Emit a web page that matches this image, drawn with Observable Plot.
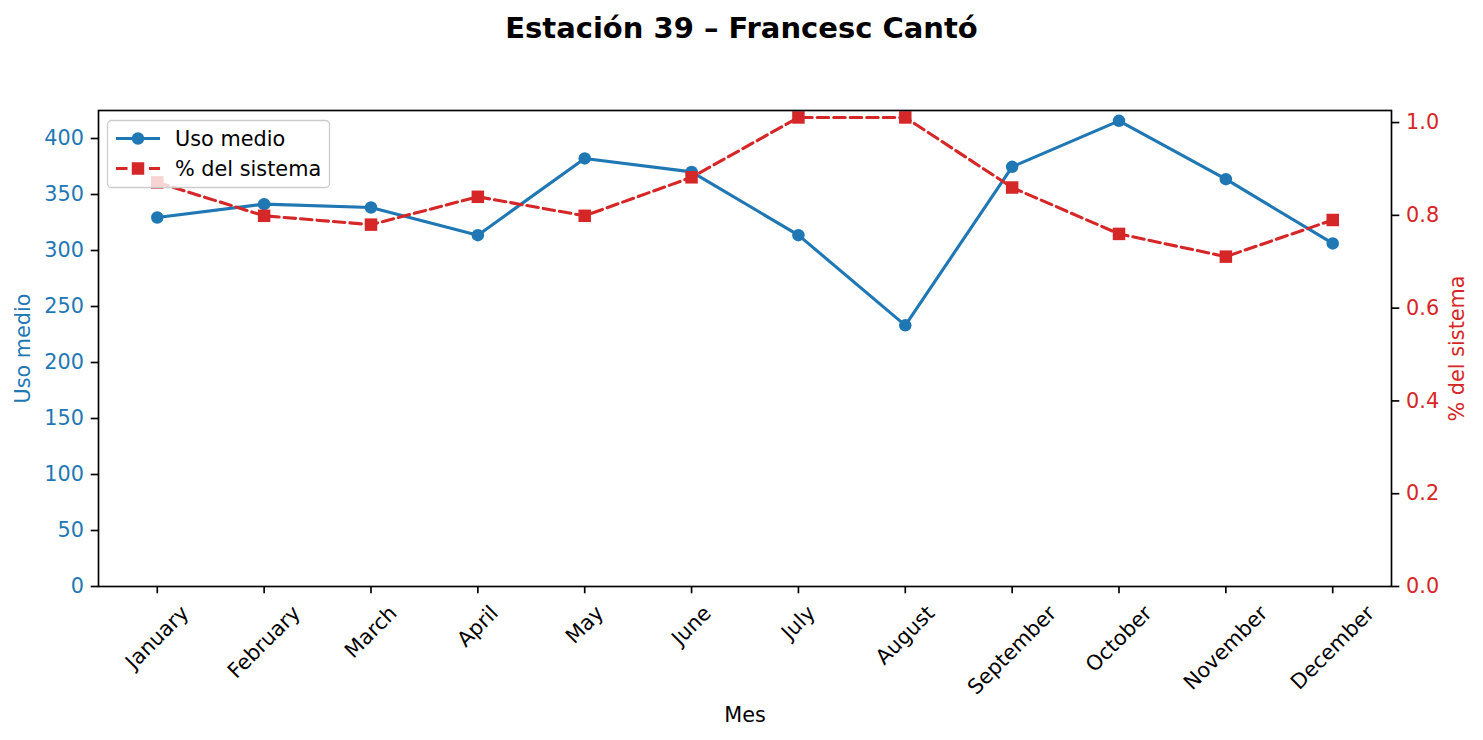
<!DOCTYPE html>
<html><head><meta charset="utf-8">
<script src="https://cdn.jsdelivr.net/npm/d3@7"></script>
<script src="https://cdn.jsdelivr.net/npm/@observablehq/plot@0.6"></script>
<style>
body{margin:0;background:#fff;font-family:"DejaVu Sans",sans-serif;}
#wrap{position:relative;width:1483px;height:740px;overflow:hidden;}
#wrap > svg{position:absolute;left:0;top:0;}
#title{position:absolute;left:0;top:11px;width:1483px;text-align:center;font-weight:bold;font-size:29px;line-height:34px;color:#000;}
</style></head><body>
<div id="wrap"><div id="title">Estación 39 – Francesc Cantó</div></div>
<script>
const months = ["January","February","March","April","May","June","July","August","September","October","November","December"];
const usoMedio = [329.5, 341.4, 338.4, 313.7, 382.2, 370.2, 313.7, 233.2, 374.7, 415.8, 363.7, 306.3];
const pctSistema = [0.871, 0.799, 0.780, 0.840, 0.799, 0.882, 1.011, 1.011, 0.860, 0.760, 0.711, 0.790];
const usoTicks = [0, 50, 100, 150, 200, 250, 300, 350, 400];
const pctTicks = [0, 0.2, 0.4, 0.6, 0.8, 1.0];
const usoDomain = [0, 425];
const pctDomain = [0, 1.026];
const legendLabels = ["Uso medio", "% del sistema"];

const data = months.map((m, i) => ({month: m, uso: usoMedio[i], pct: pctSistema[i]}));

const BLUE = "#1f77b4", RED = "#d62728";
const W = 1483, H = 740;
const FS = 20.8;
const FONT = `${FS}px "DejaVu Sans"`;
const TICK = 7.3, PAD = 7.3, LW = 3.1, SW = 1.67;

const base = {
  width: W, height: H,
  marginTop: 110, marginRight: 92, marginBottom: 154, marginLeft: 98,
  x: {type: "point", domain: months, padding: 0.55, round: false, axis: null, label: null},
  style: {fontFamily: '"DejaVu Sans"', fontSize: FS + "px", background: "transparent", overflow: "visible", color: "#000"}
};

// measure rotated x labels (matplotlib ha=center, rotation=45)
const ctx = document.createElement("canvas").getContext("2d");
ctx.font = FONT;
const textH = FS * 1.17;
const xLabelMarks = months.map(m => {
  const w = ctx.measureText(m).width;
  const dy = TICK + PAD + (w + textH) * Math.SQRT1_2 / 2;
  return Plot.text([m], {x: d => d, text: d => d, frameAnchor: "bottom", rotate: -45,
    textAnchor: "middle", lineAnchor: "middle", dy, fill: "#000"});
});

const p1 = Plot.plot({
  ...base,
  y: {domain: usoDomain, axis: null, label: null},
  marks: [
    Plot.line(data, {x: "month", y: "uso", stroke: BLUE, strokeWidth: LW}),
    Plot.dot(data, {x: "month", y: "uso", r: 6.25, fill: BLUE, stroke: null}),
    Plot.axisY({anchor: "left", ticks: usoTicks, tickSize: TICK, tickFormat: () => "", label: null, stroke: "#000", strokeWidth: SW}),
    Plot.axisY({anchor: "left", ticks: usoTicks, tickSize: 0, tickPadding: TICK + PAD, label: null, color: BLUE, tickFormat: d => String(d)}),
    Plot.axisX({ticks: months, tickSize: TICK, tickFormat: () => "", label: null, stroke: "#000", strokeWidth: SW}),
    ...xLabelMarks,
    Plot.text(["Uso medio"], {text: d => d, frameAnchor: "left", dx: -75, rotate: -90, textAnchor: "middle", lineAnchor: "middle", fill: BLUE}),
    Plot.text(["Mes"], {text: d => d, frameAnchor: "bottom", dy: 129, textAnchor: "middle", lineAnchor: "middle", fill: "#000"})
  ]
});

const p2 = Plot.plot({
  ...base,
  y: {domain: pctDomain, axis: null, label: null},
  marks: [
    Plot.line(data, {x: "month", y: "pct", stroke: RED, strokeWidth: LW, strokeDasharray: "11.5,5"}),
    Plot.dot(data, {x: "month", y: "pct", symbol: "square", r: 7.05, fill: RED, stroke: null}),
    Plot.axisY({anchor: "right", ticks: pctTicks, tickSize: TICK, tickFormat: () => "", label: null, stroke: "#000", strokeWidth: SW}),
    Plot.axisY({anchor: "right", ticks: pctTicks, tickSize: 0, tickPadding: TICK + PAD, label: null, color: RED, tickFormat: d => d.toFixed(1)}),
    Plot.text(["% del sistema"], {text: d => d, frameAnchor: "right", dx: 66, rotate: -90, textAnchor: "middle", lineAnchor: "middle", fill: RED}),
    Plot.frame({stroke: "#000", strokeWidth: SW})
  ]
});

const wrap = document.getElementById("wrap");
wrap.appendChild(p1);
wrap.appendChild(p2);

// legend (matplotlib-style, upper left)
const ns = "http://www.w3.org/2000/svg";
const lg = document.createElementNS(ns, "svg");
lg.setAttribute("width", W); lg.setAttribute("height", H);
lg.style.position = "absolute"; lg.style.left = "0"; lg.style.top = "0";
lg.innerHTML = `
<rect x="107.5" y="120.5" width="222" height="67" rx="4" ry="4" fill="rgba(255,255,255,0.8)" stroke="#cccccc" stroke-width="1.3"/>
<line x1="116" y1="138.5" x2="160" y2="138.5" stroke="${BLUE}" stroke-width="${LW}"/>
<circle cx="138" cy="138.5" r="6.25" fill="${BLUE}"/>
<text x="175" y="138.5" dy="0.35em" font-family="DejaVu Sans" font-size="${FS}" fill="#000">${legendLabels[0]}</text>
<line x1="116" y1="168.5" x2="160" y2="168.5" stroke="${RED}" stroke-width="${LW}" stroke-dasharray="11.5,5"/>
<rect x="131.75" y="162.25" width="12.5" height="12.5" fill="${RED}"/>
<text x="175" y="168.5" dy="0.35em" font-family="DejaVu Sans" font-size="${FS}" fill="#000">${legendLabels[1]}</text>`;
wrap.appendChild(lg);
</script>
</body></html>
